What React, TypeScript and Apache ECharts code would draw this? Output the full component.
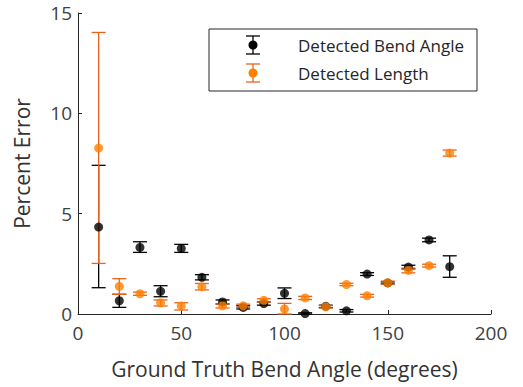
import React, { useEffect, useRef } from "react";
import * as echarts from "echarts";

const angles = [10, 20, 30, 40, 50, 60, 70, 80, 90, 100, 110, 120, 130, 140, 150, 160, 170, 180];
const bendMean = [4.33, 0.66, 3.32, 1.13, 3.27, 1.83, 0.6, 0.33, 0.52, 1.03, 0.02, 0.38, 0.16, 1.99, 1.55, 2.34, 3.69, 2.36];
const bendLow = [1.31, 0.33, 3.07, 0.86, 3.07, 1.7, 0.5, 0.25, 0.44, 0.77, 0.0, 0.32, 0.1, 1.92, 1.5, 2.25, 3.6, 1.83];
const bendHigh = [7.41, 0.98, 3.6, 1.41, 3.47, 1.96, 0.7, 0.41, 0.6, 1.3, 0.06, 0.44, 0.22, 2.06, 1.6, 2.43, 3.78, 2.9];
const lengthMean = [8.27, 1.38, 1.01, 0.56, 0.4, 1.36, 0.4, 0.41, 0.68, 0.25, 0.8, 0.36, 1.47, 0.91, 1.56, 2.17, 2.41, 8.02];
const lengthLow = [2.52, 0.98, 0.93, 0.4, 0.2, 1.2, 0.3, 0.33, 0.6, 0.0, 0.72, 0.3, 1.41, 0.84, 1.48, 2.05, 2.34, 7.87];
const lengthHigh = [14.03, 1.76, 1.09, 0.7, 0.56, 1.52, 0.5, 0.49, 0.76, 0.53, 0.88, 0.42, 1.53, 0.98, 1.64, 2.29, 2.48, 8.17];
const xTicks = [0, 200, 50];
const yTicks = [0, 15, 5];

const FONT = "Open Sans";
const BLACK = "#000000";
const ORANGE_DOT = "#FF7F00";
const ORANGE_BAR = "#E8621E";

function errSeries(name: string, low: number[], high: number[], color: string) {
  return {
    type: "custom",
    name,
    silent: true,
    data: angles.map((a, i) => [a, low[i], high[i]]),
    renderItem: (_p: any, api: any) => {
      const x = api.value(0);
      const pLo = api.coord([x, api.value(1)]);
      const pHi = api.coord([x, api.value(2)]);
      const hw = 7;
      const style = { stroke: color, lineWidth: 1.3 };
      return {
        type: "group",
        children: [
          { type: "line", shape: { x1: pHi[0], y1: pHi[1], x2: pLo[0], y2: pLo[1] }, style },
          { type: "line", shape: { x1: pHi[0] - hw, y1: pHi[1], x2: pHi[0] + hw, y2: pHi[1] }, style },
          { type: "line", shape: { x1: pLo[0] - hw, y1: pLo[1], x2: pLo[0] + hw, y2: pLo[1] }, style },
        ],
      };
    },
  };
}

function dotSeries(name: string, vals: number[], color: string) {
  return {
    type: "scatter",
    name,
    symbol: "circle",
    symbolSize: 9,
    itemStyle: { color },
    data: angles.map((a, i) => [a, vals[i]]),
  };
}

function legendIcon(x: number, y: number, barColor: string, dotColor: string) {
  const style = { stroke: barColor, lineWidth: 1.3 };
  return [
    { type: "line", shape: { x1: x, y1: y - 9, x2: x, y2: y + 9 }, style },
    { type: "line", shape: { x1: x - 7, y1: y - 9, x2: x + 7, y2: y - 9 }, style },
    { type: "line", shape: { x1: x - 7, y1: y + 9, x2: x + 7, y2: y + 9 }, style },
    { type: "circle", shape: { cx: x, cy: y, r: 4.5 }, style: { fill: dotColor } },
  ];
}

export default function App() {
  const ref = useRef<HTMLDivElement>(null);
  useEffect(() => {
    const chart = echarts.init(ref.current!, null, { renderer: "svg" });
    const axisCommon = {
      type: "value",
      axisLine: { show: true, lineStyle: { color: "#262626", width: 1 } },
      axisTick: { show: true, inside: true, length: 4, lineStyle: { color: "#262626" } },
      splitLine: { show: false },
      axisLabel: { color: "#404040", fontFamily: FONT, fontSize: 19 },
      nameTextStyle: { color: "#333333", fontFamily: FONT, fontSize: 21 },
    };
    chart.setOption({
      animation: false,
      grid: { left: 78, right: 32, top: 13, bottom: 73 },
      xAxis: {
        ...axisCommon,
        min: xTicks[0],
        max: xTicks[1],
        interval: xTicks[2],
        name: "Ground Truth Bend Angle (degrees)",
        nameLocation: "middle",
        nameGap: 44,
        axisLabel: { ...axisCommon.axisLabel, margin: 9 },
      },
      yAxis: {
        ...axisCommon,
        min: yTicks[0],
        max: yTicks[1],
        interval: yTicks[2],
        name: "Percent Error",
        nameLocation: "middle",
        nameGap: 46,
        axisLabel: { ...axisCommon.axisLabel, margin: 6 },
      },
      series: [
        errSeries("bendErr", bendLow, bendHigh, BLACK),
        dotSeries("Detected Bend Angle", bendMean, BLACK),
        errSeries("lengthErr", lengthLow, lengthHigh, ORANGE_BAR),
        dotSeries("Detected Length", lengthMean, ORANGE_DOT),
      ],
      graphic: [
        {
          type: "rect",
          shape: { x: 209, y: 29, width: 268, height: 62 },
          style: { fill: "#fff", stroke: "#262626", lineWidth: 1 },
          z: 10,
        },
        ...legendIcon(253, 45, BLACK, BLACK).map((e) => ({ ...e, z: 11 })),
        ...legendIcon(253, 73, ORANGE_BAR, ORANGE_DOT).map((e) => ({ ...e, z: 11 })),
        {
          type: "text",
          x: 298,
          y: 45,
          z: 11,
          style: { text: "Detected Bend Angle", fill: "#262626", font: `17px "${FONT}"`, verticalAlign: "middle" },
        },
        {
          type: "text",
          x: 298,
          y: 73,
          z: 11,
          style: { text: "Detected Length", fill: "#262626", font: `17px "${FONT}"`, verticalAlign: "middle" },
        },
      ],
    });
    return () => chart.dispose();
  }, []);
  return <div ref={ref} style={{ width: 523, height: 387, position: "absolute", left: 0, top: 0 }} />;
}
